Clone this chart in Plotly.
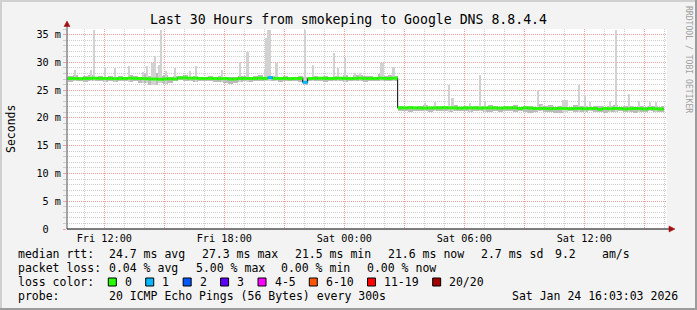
import plotly.graph_objects as go
import pandas as pd

# ---------------- data ----------------
start_time = "2026-01-23 10:10"          # first 15-min sample interval
step_minutes = 15
last_sample = "2026-01-24 15:58"
axis_start = "2026-01-23 10:08"
axis_end = "2026-01-24 16:08"

median_ms = [
    27.1, 27.1, 27.05, 27.1, 27.1, 27.15, 27.1, 27.1, 27.1, 27.05, 27.1, 27.1, 27.15, 27.1, 27.1, 27.05,
    27.0, 27.0, 26.95, 27.0, 27.05, 27.0, 27.2, 27.2, 27.15, 27.15, 27.1, 27.1, 27.1, 27.1, 27.05, 27.1,
    27.0, 27.0, 27.1, 27.1, 27.1, 27.1, 27.15, 27.1, 27.25, 27.1, 27.1, 27.1, 27.05, 27.1, 27.1, 26.4,
    27.1, 27.1, 27.15, 27.1, 27.1, 27.1, 27.15, 27.1, 27.1, 27.1, 27.15, 27.1, 27.1, 27.1, 27.15, 27.1, 27.1, 27.15,
    21.8, 21.8, 21.85, 21.8, 21.8, 21.75, 21.8, 21.8, 21.8, 21.85, 21.8, 21.8, 21.75, 21.8, 21.8, 21.8, 21.75, 21.8,
    21.8, 21.8, 21.75, 21.8, 21.8, 21.8, 21.7, 21.8, 21.75, 21.7, 21.7, 21.7, 21.65, 21.7, 21.7, 21.7, 21.65, 21.7,
    21.7, 21.65, 21.7, 21.7, 21.55, 21.7, 21.65, 21.7, 21.7, 21.6, 21.65, 21.7, 21.65, 21.6, 21.7, 21.65, 21.6, 21.6,
]
smoke_hi_ms = [
    27.5, 27.8, 27.4, 27.6, 27.7, 27.4, 27.5, 27.4, 27.6, 27.4, 27.5, 27.4, 27.7, 27.5, 27.4, 27.9,
    27.6, 28.0, 27.5, 27.8, 27.4, 27.6, 27.6, 27.7, 27.4, 27.5, 27.4, 27.4, 27.6, 27.4, 27.5, 27.4,
    27.3, 27.4, 27.6, 27.5, 27.4, 27.5, 27.7, 27.4, 27.6, 27.5, 27.4, 27.5, 27.4, 27.4, 27.5, 27.3,
    27.4, 27.5, 27.4, 27.6, 27.4, 27.5, 27.4, 27.7, 27.4, 27.8, 27.7, 27.5, 27.6, 27.4, 27.9, 27.5, 27.7, 27.6,
    22.1, 22.0, 22.2, 22.0, 22.1, 22.3, 22.0, 22.1, 22.2, 22.0, 22.1, 22.4, 22.0, 22.1, 22.0, 22.2, 22.1, 22.0,
    22.3, 22.1, 22.0, 22.2, 22.1, 22.4, 22.0, 22.1, 22.2, 22.0, 22.5, 22.1, 22.3, 22.0, 22.1, 22.2, 22.0, 22.3,
    22.1, 22.2, 22.0, 22.1, 22.2, 22.0, 22.1, 22.3, 22.0, 22.1, 22.2, 22.0, 22.1, 22.0, 22.2, 22.1, 22.0, 22.1,
]
smoke_lo_ms = [
    26.5, 26.7, 26.6, 26.5, 26.6, 26.7, 26.6, 26.4, 26.6, 26.5, 26.6, 26.7, 26.5, 26.6, 26.3, 26.2,
    26.0, 25.9, 26.2, 26.1, 26.3, 26.6, 26.8, 26.7, 26.6, 26.5, 26.6, 26.7, 26.6, 26.5, 26.4, 26.3,
    26.1, 26.2, 26.5, 26.6, 26.5, 26.6, 26.7, 26.6, 26.7, 26.6, 26.5, 26.6, 26.7, 26.6, 26.5, 26.0,
    26.6, 26.7, 26.6, 26.5, 26.6, 26.7, 26.6, 26.5, 26.6, 26.7, 26.6, 26.5, 26.6, 26.7, 26.6, 26.6, 26.7, 26.6,
    21.2, 21.3, 21.1, 21.2, 21.3, 21.2, 21.1, 21.2, 21.3, 21.2, 21.1, 21.2, 21.3, 21.2, 21.1, 21.2, 21.2, 21.1,
    21.0, 21.2, 21.1, 21.2, 21.3, 21.1, 21.2, 21.0, 20.9, 21.1, 21.2, 21.1, 21.0, 20.8, 20.9, 21.1, 21.2, 21.1,
    21.0, 21.1, 21.2, 21.0, 21.1, 20.9, 21.0, 21.1, 21.2, 21.0, 21.1, 20.9, 21.0, 21.1, 21.2, 21.0, 21.1, 21.0,
]
# lost pings (out of 20) per interval, only non-zero ones listed
loss_events = {"2026-01-23 20:10": 1, "2026-01-23 21:55": 1}

spike_times = [
    "2026-01-23 10:32", "2026-01-23 11:20", "2026-01-23 11:30", "2026-01-23 12:02", "2026-01-23 12:32",
    "2026-01-23 13:14", "2026-01-23 13:56", "2026-01-23 14:08", "2026-01-23 14:25", "2026-01-23 14:32",
    "2026-01-23 14:44", "2026-01-23 14:51", "2026-01-23 15:05", "2026-01-23 15:32", "2026-01-23 16:17",
    "2026-01-23 16:36", "2026-01-23 17:53", "2026-01-23 18:48", "2026-01-23 19:10", "2026-01-23 20:02",
    "2026-01-23 20:07", "2026-01-23 20:12", "2026-01-23 20:17", "2026-01-23 20:37", "2026-01-23 22:02",
    "2026-01-23 22:26", "2026-01-23 23:30", "2026-01-23 23:41", "2026-01-24 00:02", "2026-01-24 00:32",
    "2026-01-24 00:47", "2026-01-24 01:52", "2026-01-24 01:57", "2026-01-24 02:28",
    "2026-01-24 04:02", "2026-01-24 04:32", "2026-01-24 05:14", "2026-01-24 05:25", "2026-01-24 06:17",
    "2026-01-24 06:47", "2026-01-24 07:02", "2026-01-24 09:41", "2026-01-24 09:53", "2026-01-24 10:57",
    "2026-01-24 11:02", "2026-01-24 11:07", "2026-01-24 11:45", "2026-01-24 12:02", "2026-01-24 12:17",
    "2026-01-24 13:17", "2026-01-24 13:35", "2026-01-24 14:15", "2026-01-24 14:44", "2026-01-24 15:17",
    "2026-01-24 15:35",
]
spike_tops_ms = [
    28.7, 28.6, 35.9, 29.2, 28.9,
    29.3, 28.3, 29.4, 29.8, 31.2,
    29.6, 35.9, 28.5, 29.0, 28.5,
    29.3, 28.6, 30.0, 31.9, 28.8,
    34.3, 35.9, 35.9, 29.8, 35.9,
    29.5, 31.6, 29.0, 30.7, 28.0,
    28.0, 29.9, 29.9, 29.2,
    22.6, 22.9, 26.0, 23.5, 22.6,
    27.7, 22.8, 25.0, 22.4, 23.2,
    23.2, 23.2, 26.0, 24.1, 22.9,
    23.0, 35.9, 24.3, 23.0, 22.9,
    22.9,
]

y_tick_values = [0, 5, 10, 15, 20, 25, 30, 35]
y_tick_labels = ["0\u00a0\u00a0", "5 m", "10 m", "15 m", "20 m", "25 m", "30 m", "35 m"]
x_tick_times = ["2026-01-23 12:00", "2026-01-23 15:00", "2026-01-23 18:00", "2026-01-23 21:00",
                "2026-01-24 00:00", "2026-01-24 03:00", "2026-01-24 06:00", "2026-01-24 09:00",
                "2026-01-24 12:00", "2026-01-24 15:00"]
x_tick_labels = ["Fri 12:00", "", "Fri 18:00", "", "Sat 00:00", "", "Sat 06:00", "", "Sat 12:00", ""]

title_text = "Last 30 Hours from smokeping to Google DNS 8.8.4.4"
y_title = "Seconds"
side_text = "RRDTOOL / TOBI OETIKER"
legend_row1 = ["median rtt:", "24.7 ms avg", "27.3 ms max", "21.5 ms min", "21.6 ms now",
               "2.7 ms sd", "9.2", "am/s"]
legend_row2 = ["packet loss:", "0.04 % avg", "5.00 % max", "0.00 % min", "0.00 % now"]
loss_labels = ["0", "1", "2", "3", "4-5", "6-10", "11-19", "20/20"]
loss_upper = [0, 1, 2, 3, 5, 10, 19, 20]
loss_colors = ["#26ff00", "#00b8ff", "#0059ff", "#5e00ff", "#ff00ff", "#ff5500", "#ff0000", "#a00000"]
probe_label = "probe:"
probe_text = "20 ICMP Echo Pings (56 Bytes) every 300s"
stamp_text = "Sat Jan 24 16:03:03 2026"

# ---------------- layout helpers ----------------
W, H = 697, 310
L, R, T, B = 67, 667, 29, 229
PW, PH = R - L, B - T
MONO = "DejaVu Sans Mono"


def px(xp):
    return (xp - L) / PW


def py(yp):
    return (B - yp) / PH


step = pd.Timedelta(minutes=step_minutes)
t0 = pd.Timestamp(start_time)
t_end = pd.Timestamp(last_sample)
times = [t0 + step * i for i in range(len(median_ms))]
loss_at = {pd.Timestamp(k): v for k, v in loss_events.items()}
loss = [loss_at.get(t, 0) for t in times]


def idx_of(t):
    return min(max(int((t - t0) / step), 0), len(times) - 1)


fig = go.Figure()

# smoke band
widths, centers = [], []
for t in times:
    w = min(step, t_end - t)
    widths.append(w.total_seconds() * 1000)
    centers.append(t + w / 2)
fig.add_trace(go.Bar(
    x=centers, y=[h - l for h, l in zip(smoke_hi_ms, smoke_lo_ms)], base=smoke_lo_ms,
    width=widths, marker=dict(color="#bcbcbc", line=dict(width=0)), hoverinfo="skip"))

# smoke spikes
sp_t = [pd.Timestamp(s) for s in spike_times]
sp_base = [smoke_lo_ms[idx_of(t)] for t in sp_t]
fig.add_trace(go.Bar(
    x=sp_t, y=[top - b for top, b in zip(spike_tops_ms, sp_base)], base=sp_base,
    width=[300000] * len(sp_t), marker=dict(color="#d2d2d2", line=dict(width=0)), hoverinfo="skip"))

# thin dark median connector
fig.add_trace(go.Scatter(
    x=times + [t_end], y=median_ms + [median_ms[-1]], mode="lines",
    line=dict(color="#000000", width=1, shape="hv"), hoverinfo="skip"))

# loss-coloured median segments
for k, col in enumerate(loss_colors):
    lo_b = loss_upper[k - 1] + 1 if k > 0 else 0
    hi_b = loss_upper[k]
    xs, ys = [], []
    for t, v, ls in zip(times, median_ms, loss):
        if lo_b <= ls <= hi_b:
            xs += [t, min(t + step, t_end), None]
            ys += [v, v, None]
    if xs:
        fig.add_trace(go.Scatter(x=xs, y=ys, mode="lines",
                                 line=dict(color=col, width=3), hoverinfo="skip"))

GRID_MAJOR = "#f2a0a0"
GRID_MINOR = "#cdcdcd"
DOT = "1px,1px"

fig.update_layout(
    width=W, height=H, margin=dict(l=L, r=W - R, t=T, b=H - B, pad=0),
    paper_bgcolor="#f3f3f3", plot_bgcolor="#ffffff", showlegend=False,
    barmode="overlay", bargap=0,
    font=dict(family=MONO, size=10.2, color="#000000"),
    title=dict(text=title_text, x=0.5, xref="container", xanchor="center",
               y=1 - 19 / H, yref="container", yanchor="middle",
               font=dict(family=MONO, size=13.2, color="#000000")),
    xaxis=dict(type="date", range=[axis_start, axis_end], tickmode="array",
               tickvals=x_tick_times, ticktext=x_tick_labels, ticks="", showline=False,
               showgrid=True, gridcolor=GRID_MAJOR, griddash=DOT, gridwidth=1, zeroline=False,
               ticklabelstandoff=2, tickfont=dict(family=MONO, size=10.2),
               minor=dict(dtick=3600000, tick0="2026-01-23 00:00", showgrid=True,
                          gridcolor=GRID_MINOR, griddash=DOT, gridwidth=1)),
    yaxis=dict(range=[0, 36], tickmode="array", tickvals=y_tick_values, ticktext=y_tick_labels,
               ticks="outside", ticklen=3, tickcolor=GRID_MAJOR, showline=False,
               showgrid=True, gridcolor=GRID_MAJOR, griddash=DOT, gridwidth=1, zeroline=False,
               tickfont=dict(family=MONO, size=10.2),
               minor=dict(dtick=1, showgrid=True, gridcolor=GRID_MINOR, griddash=DOT, gridwidth=1,
                          ticks="outside", ticklen=3, tickcolor=GRID_MINOR)),
)

shapes = []
# frame borders
shapes.append(dict(type="rect", xref="paper", yref="paper", x0=px(0), x1=px(W), y0=py(0), y1=py(2),
                   fillcolor="#d0d0d0", line=dict(width=0), layer="above"))
shapes.append(dict(type="rect", xref="paper", yref="paper", x0=px(0), x1=px(2), y0=py(0), y1=py(H),
                   fillcolor="#d0d0d0", line=dict(width=0), layer="above"))
shapes.append(dict(type="rect", xref="paper", yref="paper", x0=px(0), x1=px(W), y0=py(H - 2), y1=py(H),
                   fillcolor="#9c9c9c", line=dict(width=0), layer="above"))
shapes.append(dict(type="rect", xref="paper", yref="paper", x0=px(W - 2), x1=px(W), y0=py(0), y1=py(H),
                   fillcolor="#9c9c9c", line=dict(width=0), layer="above"))
# axes with arrows
shapes.append(dict(type="line", xref="paper", yref="paper", x0=px(L), x1=px(L), y0=py(B), y1=py(24),
                   line=dict(color="#505050", width=1), layer="above"))
shapes.append(dict(type="line", xref="paper", yref="paper", x0=px(L), x1=px(671), y0=py(B), y1=py(B),
                   line=dict(color="#000000", width=1), layer="above"))
shapes.append(dict(type="path", xref="paper", yref="paper", layer="above",
                   path=f"M {px(L - 3)},{py(26.5)} L {px(L + 3)},{py(26.5)} L {px(L)},{py(21)} Z",
                   fillcolor="#a01010", line=dict(color="#a01010", width=0.5)))
shapes.append(dict(type="path", xref="paper", yref="paper", layer="above",
                   path=f"M {px(669)},{py(B - 3)} L {px(669)},{py(B + 3)} L {px(675)},{py(B)} Z",
                   fillcolor="#a01010", line=dict(color="#a01010", width=0.5)))

annotations = []


def txt(s, x, y, anchor="left", size=11.5, angle=0, color="#000000"):
    annotations.append(dict(text=s, x=px(x), y=py(y), xref="paper", yref="paper",
                            xanchor=anchor, yanchor="middle", showarrow=False, textangle=angle,
                            font=dict(family=MONO, size=size, color=color)))


row_y = [254, 268, 282, 296]
row1_x = [16, 107.3, 200, 293.3, 386, 479.3, 553.3, 600]
row2_x = [16, 107.3, 194, 279.3, 365]
for s, x in zip(legend_row1, row1_x):
    txt(s, x, row_y[0])
for s, x in zip(legend_row2, row2_x):
    txt(s, x, row_y[1])
txt("loss color:", 16, row_y[2])
bx = 108.3
for lab, col in zip(loss_labels, loss_colors):
    shapes.append(dict(type="rect", xref="paper", yref="paper", x0=px(bx), x1=px(bx + 8),
                       y0=py(row_y[2] - 4), y1=py(row_y[2] + 4), fillcolor=col,
                       line=dict(color="#000000", width=1), layer="above"))
    txt(lab, bx + 14.5, row_y[2])
    bx = bx + 14.5 + 6.93 * len(lab) + 16
txt(probe_label, 16, row_y[3])
txt(probe_text, 107.3, row_y[3])
txt(stamp_text, 680, row_y[3], anchor="right")
txt(y_title, 11, (T + B) / 2, anchor="center", size=11.5, angle=-90)
txt(side_text, 689, 59, anchor="center", size=8.1, angle=90, color="#a0a0a0")

fig.update_layout(shapes=shapes, annotations=annotations)
fig.write_html("out.html")
